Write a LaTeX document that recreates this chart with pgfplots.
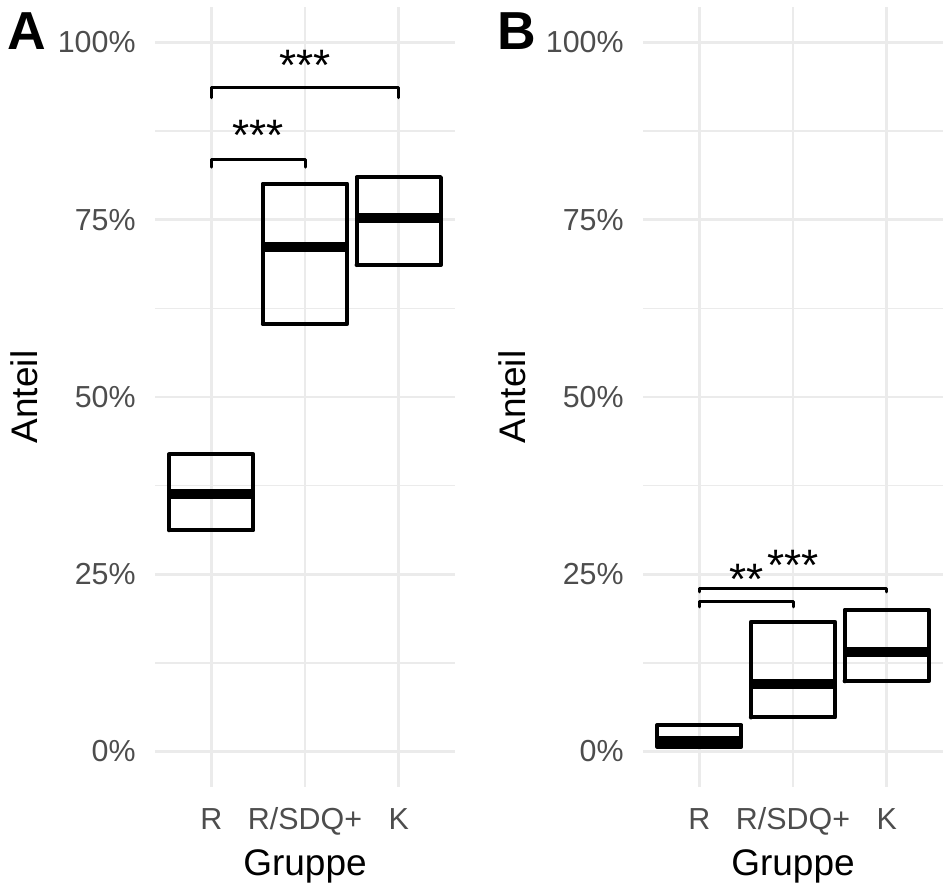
\documentclass[border=0pt]{standalone}
\usepackage{fontspec}
\setmainfont{Liberation Sans}
\usepackage{pgfplots}
\pgfplotsset{compat=1.18}
\definecolor{gridgray}{HTML}{EBEBEB}
\definecolor{tickgray}{HTML}{4D4D4D}
\tikzset{
  star/.style={font=\fontsize{22}{26}\selectfont, anchor=north, inner sep=0pt},
  panellabel/.style={font=\fontsize{26.75}{30}\selectfont\bfseries, anchor=base, inner sep=0pt},
}
\pgfplotsset{
  panel/.style={
    scale only axis, width=150pt, height=390pt,
    xmin=-0.6, xmax=2.6, ymin=-5, ymax=105,
    xtick={0,1,2}, xticklabels={R,R/SDQ+,K},
    ytick={0,25,50,75,100}, yticklabels={0\%,25\%,50\%,75\%,100\%},
    minor ytick={12.5,37.5,62.5,87.5},
    xmajorgrids, ymajorgrids, yminorgrids,
    major grid style={draw=gridgray, line width=1.4pt},
    minor grid style={draw=gridgray, line width=0.8pt},
    axis line style={draw=none},
    major tick length=0pt, minor tick length=0pt,
    tick style={draw=none},
    ticklabel style={font=\fontsize{15.2}{18}\selectfont, text=tickgray, inner sep=0pt},
    yticklabel style={anchor=east, xshift=-9.5pt},
    xticklabel style={anchor=base, yshift=-21.5pt},
    xlabel={Gruppe}, ylabel={Anteil},
    label style={font=\fontsize{18.5}{22}\selectfont, inner sep=0pt},
    xlabel style={at={(axis description cs:0.5,-0.1141)}, anchor=base},
    ylabel style={at={(axis description cs:-0.393,0.5)}, anchor=base},
    clip=false,
  },
  box/.style={black, line width=2pt, line join=round, line cap=round, mark=none},
  med/.style={black, line width=5pt, mark=none},
  brk/.style={black, line width=1.5pt, line cap=round, line join=round, mark=none},
}
\begin{document}
\begin{tikzpicture}
\path[use as bounding box] (0,0) rectangle (472pt,443pt);
% Panel A
\begin{axis}[panel, at={(77.5pt,49.5pt)}, anchor=south west]
\addplot[box] coordinates {(-0.45,31.2) (0.45,31.2) (0.45,41.9) (-0.45,41.9) (-0.45,31.2)};
\addplot[med] coordinates {(-0.45,36.3) (0.45,36.3)};
\addplot[box] coordinates {(0.55,60.3) (1.45,60.3) (1.45,80.1) (0.55,80.1) (0.55,60.3)};
\addplot[med] coordinates {(0.55,71.2) (1.45,71.2)};
\addplot[box] coordinates {(1.55,68.6) (2.45,68.6) (2.45,81.0) (1.55,81.0) (1.55,68.6)};
\addplot[med] coordinates {(1.55,75.2) (2.45,75.2)};
\addplot[brk] coordinates {(0,92.2) (0,93.7) (2,93.7) (2,92.2)};
\addplot[brk] coordinates {(0,82.4) (0,83.55) (1,83.55) (1,82.4)};
\node[star] at (axis cs:1,99.0) {***};
\node[star] at (axis cs:0.5,89.05) {***};
\end{axis}
% Panel B
\begin{axis}[panel, at={(321.5pt,49.5pt)}, anchor=south west]
\addplot[box] coordinates {(-0.45,0.7) (0.45,0.7) (0.45,3.7) (-0.45,3.7) (-0.45,0.7)};
\addplot[med] coordinates {(-0.45,1.5) (0.45,1.5)};
\addplot[box] coordinates {(0.55,4.8) (1.45,4.8) (1.45,18.3) (0.55,18.3) (0.55,4.8)};
\addplot[med] coordinates {(0.55,9.5) (1.45,9.5)};
\addplot[box] coordinates {(1.55,9.9) (2.45,9.9) (2.45,20.0) (1.55,20.0) (1.55,9.9)};
\addplot[med] coordinates {(1.55,14.0) (2.45,14.0)};
\addplot[brk] coordinates {(0,22.5) (0,22.98) (2,22.98) (2,22.5)};
\addplot[brk] coordinates {(0,20.4) (0,21.1) (1,21.1) (1,20.4)};
\node[star] at (axis cs:0.5,26.46) {**};
\node[star] at (axis cs:1,28.43) {***};
\end{axis}
\node[panellabel] at (13.25pt,418pt) {A};
\node[panellabel] at (258.3pt,418pt) {B};
\end{tikzpicture}
\end{document}
